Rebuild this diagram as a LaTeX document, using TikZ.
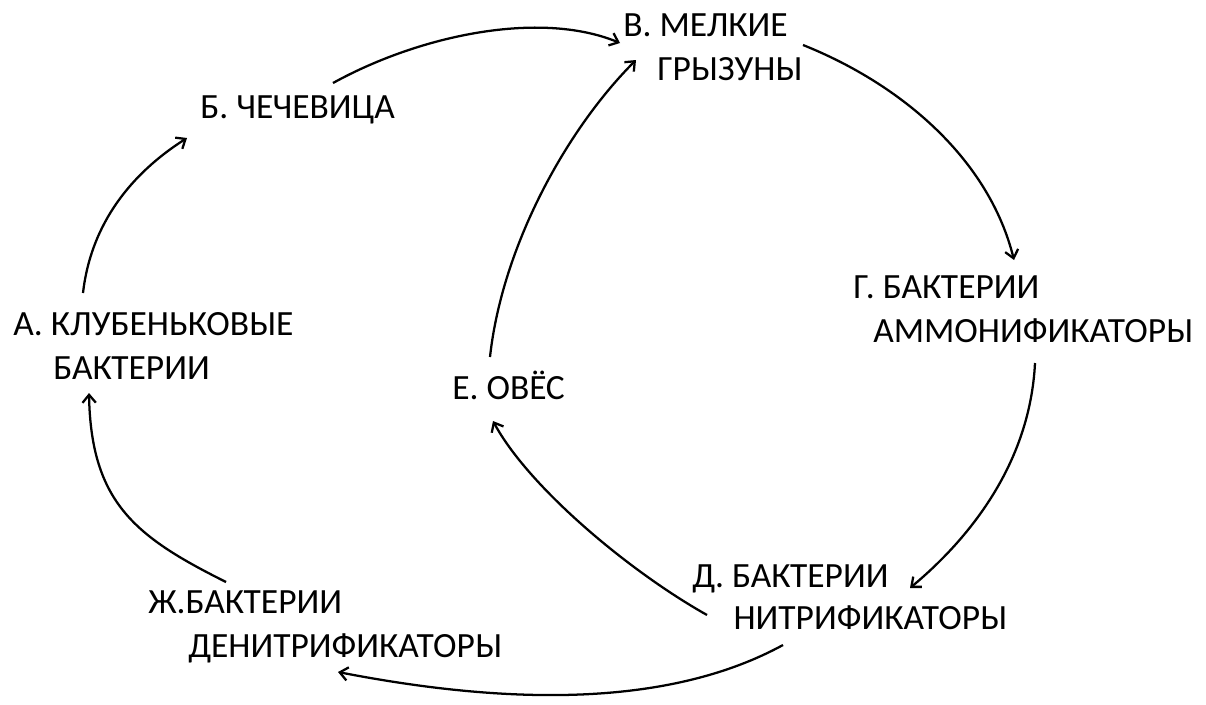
\documentclass[tikz,border=0pt]{standalone}
\usepackage{fontspec}
\setmainfont{Carlito}
\usetikzlibrary{arrows.meta,calc}

\begin{document}
\begin{tikzpicture}[x=0.75pt,y=0.75pt,yscale=-1,xscale=1,
  lbl/.style={anchor=base west,inner sep=0pt,align=left,font=\fontsize{26.6}{33}\selectfont},
  arr/.style={line width=1.7pt,-{Straight Barb[length=6pt,width=10pt]}}]
\useasboundingbox (0,0) rectangle (1206,704);

% Text Node
\node[lbl] (v) at (623,80) {В. МЕЛКИЕ\\\hspace*{25.5pt}ГРЫЗУНЫ};
% Text Node
\node[lbl] (b) at (200,118) {Б. ЧЕЧЕВИЦА};
% Text Node
\node[lbl] (a) at (13,379) {А. КЛУБЕНЬКОВЫЕ\\\hspace*{30pt}БАКТЕРИИ};
% Text Node
\node[lbl] (g) at (853,342) {Г. БАКТЕРИИ\\\hspace*{15pt}АММОНИФИКАТОРЫ};
% Text Node
\node[lbl] (e) at (452,399) {Е. ОВЁС};
% Text Node
\node[lbl] (d) at (692,629) {Д. БАКТЕРИИ\\[-2pt]\hspace*{31pt}НИТРИФИКАТОРЫ};
% Text Node
\node[lbl] (zh) at (148,657) {Ж.БАКТЕРИИ\\\hspace*{30pt}ДЕНИТРИФИКАТОРЫ};

%Curve Lines
\draw[arr] ($(b.base west)+(133,-35)$) .. controls +(87,-48) and +(-80,-33) .. ($(v.base west)+(-3,-37)$);
%Curve Lines
\draw[arr] ($(a.base west)+(70,-86)$) .. controls +(8,-70) and +(-55,35) .. ($(b.base west)+(-13,20)$);
%Curve Lines
\draw[arr] ($(zh.base west)+(78,-75)$) .. controls +(-90,-45) and +(2,110) .. ($(a.base west)+(76,14)$);
%Curve Lines
\draw[arr] ($(v.base west)+(180,-35)$) .. controls +(100,40) and +(-25,-100) .. ($(g.base west)+(161,-82)$);
%Curve Lines
\draw[arr] ($(g.base west)+(182,21)$) .. controls +(-5,100) and +(60,-50) .. ($(d.base west)+(218,-41)$);
%Curve Lines
\draw[arr] ($(d.base west)+(15,-14)$) .. controls +(-80,-45) and +(35,65) .. ($(e.base west)+(41,22)$);
%Curve Lines
\draw[arr] ($(e.base west)+(38,-42)$) .. controls +(12,-110) and +(-70,70) .. ($(v.base west)+(13,-20)$);
%Curve Lines
\draw[arr] ($(d.base west)+(91,16)$) .. controls +(-110,60) and +(180,35) .. ($(zh.base west)+(190,15)$);
\end{tikzpicture}
\end{document}
